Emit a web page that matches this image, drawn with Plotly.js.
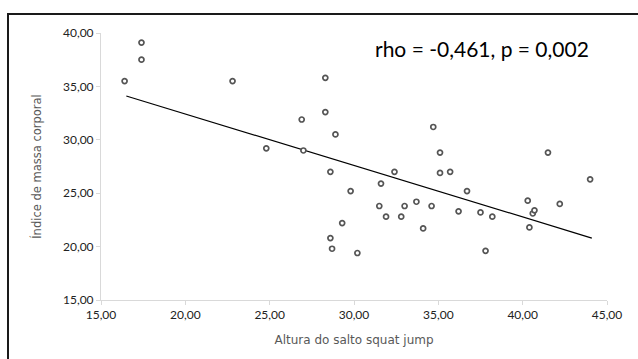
<!DOCTYPE html>
<html>
<head>
<meta charset="utf-8">
<script src="https://cdn.plot.ly/plotly-3.0.1.min.js"></script>
<style>
  html, body { margin: 0; padding: 0; background: #fff; }
  #wrap { position: relative; width: 638px; height: 359px; }
  #chart { position: absolute; left: 0; top: 0; width: 638px; height: 359px; }
  #frame { position: absolute; left: 7px; top: 13px; width: 640px; height: 360px;
           border-top: 2px solid #1a1a1a; border-left: 2px solid #1a1a1a; pointer-events: none; }
</style>
</head>
<body>
<div id="wrap">
  <div id="chart"></div>
  <div id="frame"></div>
</div>
<script>
// Data
const alturaSalto = [16.4, 17.4, 17.4, 22.8, 24.8, 26.9, 27.0, 28.3, 28.3, 28.9,
  28.6, 32.4, 34.7, 35.1, 35.1, 35.7, 41.5, 44.0, 31.6, 29.8,
  36.7, 31.5, 33.0, 33.7, 34.6, 31.9, 32.8, 29.3, 34.1, 36.2,
  37.5, 38.2, 40.3, 40.6, 40.7, 40.4, 42.2, 28.6, 28.7, 30.2, 37.8];
const imc = [35.5, 39.1, 37.5, 35.5, 29.2, 31.9, 29.0, 35.8, 32.6, 30.5,
  27.0, 27.0, 31.2, 28.8, 26.9, 27.0, 28.8, 26.3, 25.9, 25.2,
  25.2, 23.8, 23.8, 24.2, 23.8, 22.8, 22.8, 22.2, 21.7, 23.3,
  23.2, 22.8, 24.3, 23.1, 23.4, 21.8, 24.0, 20.8, 19.8, 19.4, 19.6];
const trendX = [16.5, 44.1];
const trendY = [34.1, 20.8];
const xTicks = [15, 20, 25, 30, 35, 40, 45];
const yTicks = [15, 20, 25, 30, 35, 40];
const statText = "rho = -0,461, p = 0,002";

const FONT = "Lato, 'Open Sans', sans-serif";
const TITLE_FONT = "'DejaVu Sans', sans-serif";

const traces = [
  {
    x: trendX, y: trendY, type: 'scatter', mode: 'lines',
    line: { color: '#000000', width: 1.2 }, hoverinfo: 'skip', showlegend: false
  },
  {
    x: alturaSalto, y: imc, type: 'scatter', mode: 'markers',
    marker: { symbol: 'circle', size: 5, color: '#ffffff',
              line: { color: '#555555', width: 1.7 } },
    showlegend: false
  }
];

const layout = {
  width: 638, height: 359,
  margin: { l: 101, r: 31, t: 33, b: 59, pad: 0 },
  paper_bgcolor: 'rgba(0,0,0,0)', plot_bgcolor: '#ffffff',
  separators: ',.',
  font: { family: FONT, color: '#222222', size: 12 },
  showlegend: false,
  xaxis: {
    range: [15, 45], tickvals: xTicks, tickformat: '.2f',
    showgrid: false, zeroline: false, showline: true, linecolor: '#d9d9d9', linewidth: 1,
    ticks: 'outside', ticklen: 4, tickcolor: '#d9d9d9', tickwidth: 1,
    tickfont: { family: FONT, size: 12, color: '#222222' },
    title: { text: 'Altura do salto squat jump', standoff: 14,
             font: { family: TITLE_FONT, size: 12, color: '#595959' } }
  },
  yaxis: {
    range: [15, 40], tickvals: yTicks, tickformat: '.2f',
    showgrid: false, zeroline: false, showline: true, linecolor: '#d9d9d9', linewidth: 1,
    ticks: 'outside', ticklen: 4, tickcolor: '#d9d9d9', tickwidth: 1,
    tickfont: { family: FONT, size: 12, color: '#222222' },
    title: { text: 'Índice de massa corporal', standoff: 18,
             font: { family: TITLE_FONT, size: 11.5, color: '#595959' } }
  },
  annotations: [{
    text: statText, xref: 'paper', yref: 'paper', x: 0.753, y: 0.941,
    xanchor: 'center', yanchor: 'middle', showarrow: false,
    font: { family: FONT, size: 21, color: '#000000' }
  }]
};

Plotly.newPlot('chart', traces, layout, { displayModeBar: false, staticPlot: true });
</script>
</body>
</html>
